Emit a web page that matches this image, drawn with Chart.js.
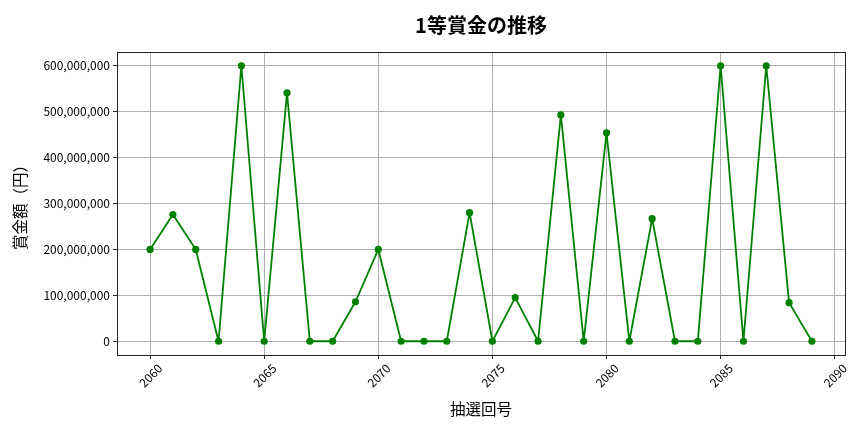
<!DOCTYPE html>
<html><head><meta charset="utf-8">
<script src="https://cdn.jsdelivr.net/npm/chart.js@4.4.0/dist/chart.umd.min.js"></script>
<style>html,body{margin:0;padding:0;background:#fff}#wrap{width:864px;height:432px;position:relative}</style>
</head><body><div id="wrap"><canvas id="c"></canvas></div>
<script>
const rounds = [2060,2061,2062,2063,2064,2065,2066,2067,2068,2069,2070,2071,2072,2073,2074,2075,2076,2077,2078,2079,2080,2081,2082,2083,2084,2085,2086,2087,2088,2089];
const prizes = [200000000,276000000,200000000,0,600000000,0,541000000,0,0,86000000,200000000,0,0,0,280000000,0,95000000,0,493000000,0,454000000,0,267000000,0,0,600000000,0,600000000,84000000,0];
const xTicks = [2060,2065,2070,2075,2080,2085,2090];
const yTicks = [0,100000000,200000000,300000000,400000000,500000000,600000000];
const titleText = '1等賞金の推移';
const xTitle = '抽選回号';
const yTitle = '賞金額（円）';

const FONT = "'Noto Sans CJK JP', 'Noto Sans', sans-serif";
Chart.defaults.font.family = FONT;
Chart.defaults.color = '#000';

const framePlugin = {
  id: 'frame',
  afterDatasetsDraw(chart) {
    const a = chart.chartArea, ctx = chart.ctx;
    ctx.save();
    ctx.strokeStyle = '#222';
    ctx.lineWidth = 1;
    ctx.strokeRect(Math.round(a.left) + 0.5, Math.round(a.top) + 0.5, Math.round(a.right - a.left), Math.round(a.bottom - a.top));
    ctx.restore();
  },
  afterDraw(chart) {
    const a = chart.chartArea, ctx = chart.ctx;
    ctx.save();
    ctx.fillStyle = '#000';
    ctx.font = "bold 20px " + FONT;
    ctx.textAlign = 'center';
    ctx.textBaseline = 'middle';
    ctx.fillText(titleText, (a.left + a.right) / 2, 25);
    ctx.restore();
  }
};

new Chart(document.getElementById('c'), {
  type: 'line',
  data: {
    datasets: [{
      data: rounds.map((r, i) => ({ x: r, y: prizes[i] })),
      borderColor: '#008000',
      backgroundColor: '#008000',
      borderWidth: 1.8,
      borderJoinStyle: 'round',
      borderCapStyle: 'round',
      pointRadius: 3.6,
      pointHoverRadius: 3.6,
      pointBorderWidth: 0,
      tension: 0,
      fill: false
    }]
  },
  options: {
    responsive: true,
    maintainAspectRatio: false,
    animation: false,
    events: [],
    layout: { padding: { left: 0, right: 19, top: 52, bottom: 0 } },
    plugins: {
      legend: { display: false },
      tooltip: { enabled: false },
      title: { display: false }
    },
    scales: {
      x: {
        type: 'linear',
        min: 2058.55,
        max: 2090.45,
        afterBuildTicks: s => { s.ticks = xTicks.map(v => ({ value: v })); },
        afterFit: s => { s.height = 77; },
        grid: { color: '#b0b0b0', lineWidth: 1, tickLength: 4, tickColor: '#222' },
        border: { display: false },
        ticks: {
          minRotation: 45, maxRotation: 45, autoSkip: false,
          font: { size: 12 }, color: '#000', padding: 2, labelOffset: 10,
          callback: v => String(v)
        },
        title: { display: true, text: xTitle, font: { size: 15.5 }, color: '#000', padding: { top: 0, bottom: 14 } }
      },
      y: {
        type: 'linear',
        min: -30000000,
        max: 630000000,
        afterBuildTicks: s => { s.ticks = yTicks.map(v => ({ value: v })); },
        afterFit: s => { s.width = 117; },
        grid: { color: '#b0b0b0', lineWidth: 1, tickLength: 4, tickColor: '#222' },
        border: { display: false },
        ticks: {
          font: { size: 12 }, color: '#000', padding: 3,
          callback: v => Number(v).toLocaleString('en-US')
        },
        title: { display: true, text: yTitle, font: { size: 15.5 }, color: '#000', padding: { top: 11, bottom: 0 } }
      }
    }
  },
  plugins: [framePlugin]
});
</script>
</body></html>
